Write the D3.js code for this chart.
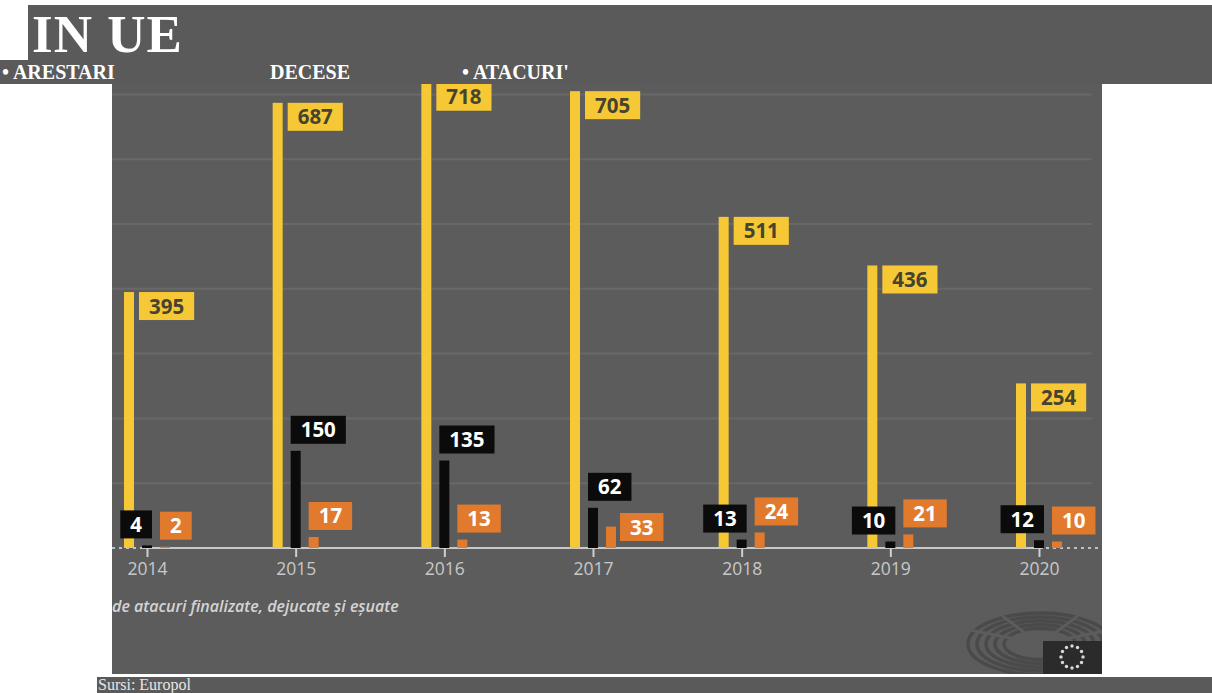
<!DOCTYPE html>
<html>
<head>
<meta charset="utf-8">
<script src="https://cdn.jsdelivr.net/npm/d3@7/dist/d3.min.js"></script>
<style>
  html, body { margin: 0; padding: 0; background: #ffffff; }
  svg { display: block; }
</style>
</head>
<body>
<svg id="chart" width="1212" height="693"></svg>
<script>
// ---- data ----
const years = ["2014", "2015", "2016", "2017", "2018", "2019", "2020"];
const arestari = [395, 687, 718, 705, 511, 436, 254];
const decese = [4, 150, 135, 62, 13, 10, 12];
const atacuri = [2, 17, 13, 33, 24, 21, 10];
const yTicks = [100, 200, 300, 400, 500, 600, 700];
const titleText = "IN UE";
const legendLabels = ["\u2022 ARESTARI", "DECESE", "\u2022 ATACURI'"];
const footnote = "de atacuri finalizate, dejucate \u0219i e\u0219uate";
const sourceText = "Sursi: Europol";

const colYellow = "#f6c836";
const colBlack = "#0b0b0b";
const colOrange = "#e27a2e";
const bg = "#5a5a5a";
const chartBg = "#5c5c5c";

const svg = d3.select("#chart");

// ---- header bands ----
svg.append("rect").attr("x", 28).attr("y", 5).attr("width", 1212 - 28).attr("height", 79).attr("fill", bg);
svg.append("rect").attr("x", 0).attr("y", 60).attr("width", 1212).attr("height", 24).attr("fill", bg);
svg.append("text").attr("x", 32).attr("y", 52)
  .attr("font-family", "'Liberation Serif', 'Times New Roman', serif")
  .attr("font-weight", "bold").attr("font-size", 53).attr("letter-spacing", 1).attr("fill", "#ffffff")
  .text(titleText);
const legendX = [2, 270, 462];
svg.selectAll("text.leg").data(legendLabels).join("text")
  .attr("class", "leg")
  .attr("x", (d, i) => legendX[i]).attr("y", 79)
  .attr("font-family", "'Liberation Serif', 'Times New Roman', serif")
  .attr("font-weight", "bold").attr("font-size", 20).attr("fill", "#ffffff")
  .text(d => d);

// ---- chart image area ----
const imgX = 112, imgY = 84, imgW = 1102 - 112, imgH = 674 - 84;
svg.append("defs").append("clipPath").attr("id", "imgclip")
  .append("rect").attr("x", imgX).attr("y", imgY).attr("width", imgW).attr("height", imgH);
svg.append("rect").attr("x", imgX).attr("y", imgY).attr("width", imgW).attr("height", imgH).attr("fill", chartBg);
const g = svg.append("g").attr("clip-path", "url(#imgclip)");

const x = d3.scalePoint().domain(years).range([147, 1039]);
const y = d3.scaleLinear().domain([0, 700]).range([548, 548 - 453.6]);
const base = y(0);
const bw = 10;

// gridlines
g.selectAll("line.grid").data(yTicks).join("line")
  .attr("class", "grid")
  .attr("x1", imgX).attr("x2", 1092)
  .attr("y1", d => y(d)).attr("y2", d => y(d))
  .attr("stroke", "#686868").attr("stroke-width", 2);

// baseline: dotted ends, solid middle
const solidStart = x(years[0]) - 7, solidEnd = x(years[years.length - 1]) + 4;
g.append("line").attr("x1", solidStart).attr("x2", solidEnd).attr("y1", base).attr("y2", base)
  .attr("stroke", "#c9c9c9").attr("stroke-width", 2);
g.append("line").attr("x1", imgX).attr("x2", solidStart).attr("y1", base).attr("y2", base)
  .attr("stroke", "#b9c3d0").attr("stroke-width", 2).attr("stroke-dasharray", "3,4");
g.append("line").attr("x1", solidEnd + 3).attr("x2", 1098).attr("y1", base).attr("y2", base)
  .attr("stroke", "#b9c3d0").attr("stroke-width", 2).attr("stroke-dasharray", "3,4");

// x axis ticks + labels
const xAxis = d3.axisBottom(x).tickSize(9).tickPadding(6);
const ax = g.append("g").attr("transform", `translate(0,${base})`).call(xAxis);
ax.select(".domain").remove();
ax.selectAll(".tick line").attr("stroke", "#cfcfcf").attr("stroke-width", 2);
ax.selectAll(".tick text")
  .attr("font-family", "'Open Sans', sans-serif").attr("font-size", 17.5)
  .attr("fill", "#c8c8c8");

// series
const series = [
  { key: "arestari", vals: arestari, off: -18, color: colYellow },
  { key: "decese", vals: decese, off: 0, color: colBlack },
  { key: "atacuri", vals: atacuri, off: 18, color: colOrange }
];

series.forEach(s => {
  g.selectAll(`rect.bar-${s.key}`).data(years).join("rect")
    .attr("class", `bar-${s.key}`)
    .attr("x", (d) => x(d) + s.off - bw / 2)
    .attr("width", bw)
    .attr("y", (d, i) => y(s.vals[i]))
    .attr("height", (d, i) => base - y(s.vals[i]))
    .attr("fill", s.color);
});

// labels
const font = "'Open Sans', sans-serif";
const fs = 20.5;
const boxH = 28, pad = 10;
function measure(t) {
  const tmp = svg.append("text").attr("font-family", font).attr("font-weight", 700)
    .attr("font-size", fs).text(t);
  const w = tmp.node().getComputedTextLength();
  tmp.remove();
  return w;
}
function label(cx, cy, w, text, fill, textColor) {
  const lg = g.append("g");
  lg.append("rect").attr("x", cx).attr("y", cy).attr("width", w).attr("height", boxH).attr("fill", fill);
  lg.append("text").attr("x", cx + w / 2).attr("y", cy + boxH / 2 + 7.5)
    .attr("text-anchor", "middle")
    .attr("font-family", font).attr("font-weight", 700).attr("font-size", fs)
    .attr("fill", textColor).text(text);
}

years.forEach((yr, i) => {
  const cx = x(yr);
  // yellow
  {
    const v = arestari[i];
    const t = String(v);
    const w = measure(t) + 2 * pad;
    const left = cx - 18 + bw / 2 + 5;
    label(left, y(v), w, t, colYellow, "#46432f");
  }
  // black
  {
    const v = decese[i];
    const t = String(v);
    const w = measure(t) + 2 * pad;
    const top = y(v) - 7 - boxH;
    const left = v >= 30 ? cx - bw / 2 : cx + bw / 2 - w;
    label(left, top, w, t, colBlack, "#ffffff");
  }
  // orange
  {
    const v = atacuri[i];
    const t = String(v);
    const w = measure(t) + 2 * pad;
    let left, top;
    if (v > 30) { left = cx + 18 + bw / 2 + 4; top = base - 7 - boxH; }
    else { left = cx + 18 - bw / 2; top = y(v) - 7 - boxH; }
    label(left, top, w, t, colOrange, "#ffffff");
  }
});

// footnote
g.append("text").attr("x", imgX).attr("y", 612)
  .attr("font-family", font).attr("font-style", "italic").attr("font-weight", 600).attr("font-size", 16)
  .attr("fill", "#d4d4d4").text(footnote);

// EP logo (hemicycle + flag)
const logo = g.append("g");
const lcx = 1040, lcy = 644;
[72, 63, 54, 45, 36].forEach(r => {
  logo.append("ellipse").attr("cx", lcx).attr("cy", lcy).attr("rx", r).attr("ry", r * 0.43)
    .attr("fill", "none").attr("stroke", "#4a4a4a").attr("stroke-width", 3.5);
});
logo.append("ellipse").attr("cx", lcx).attr("cy", lcy).attr("rx", 28).attr("ry", 11)
  .attr("fill", chartBg);
[-155, -120, -60, -25].forEach(a => {
  const rad = a * Math.PI / 180;
  logo.append("line")
    .attr("x1", lcx + 30 * Math.cos(rad)).attr("y1", lcy + 30 * 0.43 * Math.sin(rad))
    .attr("x2", lcx + 76 * Math.cos(rad)).attr("y2", lcy + 76 * 0.43 * Math.sin(rad))
    .attr("stroke", chartBg).attr("stroke-width", 3);
});
logo.append("rect").attr("x", 1043).attr("y", 641).attr("width", 60).attr("height", 33).attr("fill", "#2b2b2b");
d3.range(12).forEach(k => {
  const a = k * Math.PI * 2 / 12;
  logo.append("circle").attr("cx", 1072 + 11 * Math.cos(a)).attr("cy", 657 + 11 * Math.sin(a))
    .attr("r", 1.7).attr("fill", "#d8d8d8");
});

// ---- source band ----
svg.append("rect").attr("x", 97).attr("y", 677).attr("width", 1212 - 97).attr("height", 16).attr("fill", bg);
svg.append("text").attr("x", 98).attr("y", 690)
  .attr("font-family", "'Liberation Serif', 'Times New Roman', serif")
  .attr("font-size", 16).attr("fill", "#e6e6e6").text(sourceText);
</script>
</body>
</html>
